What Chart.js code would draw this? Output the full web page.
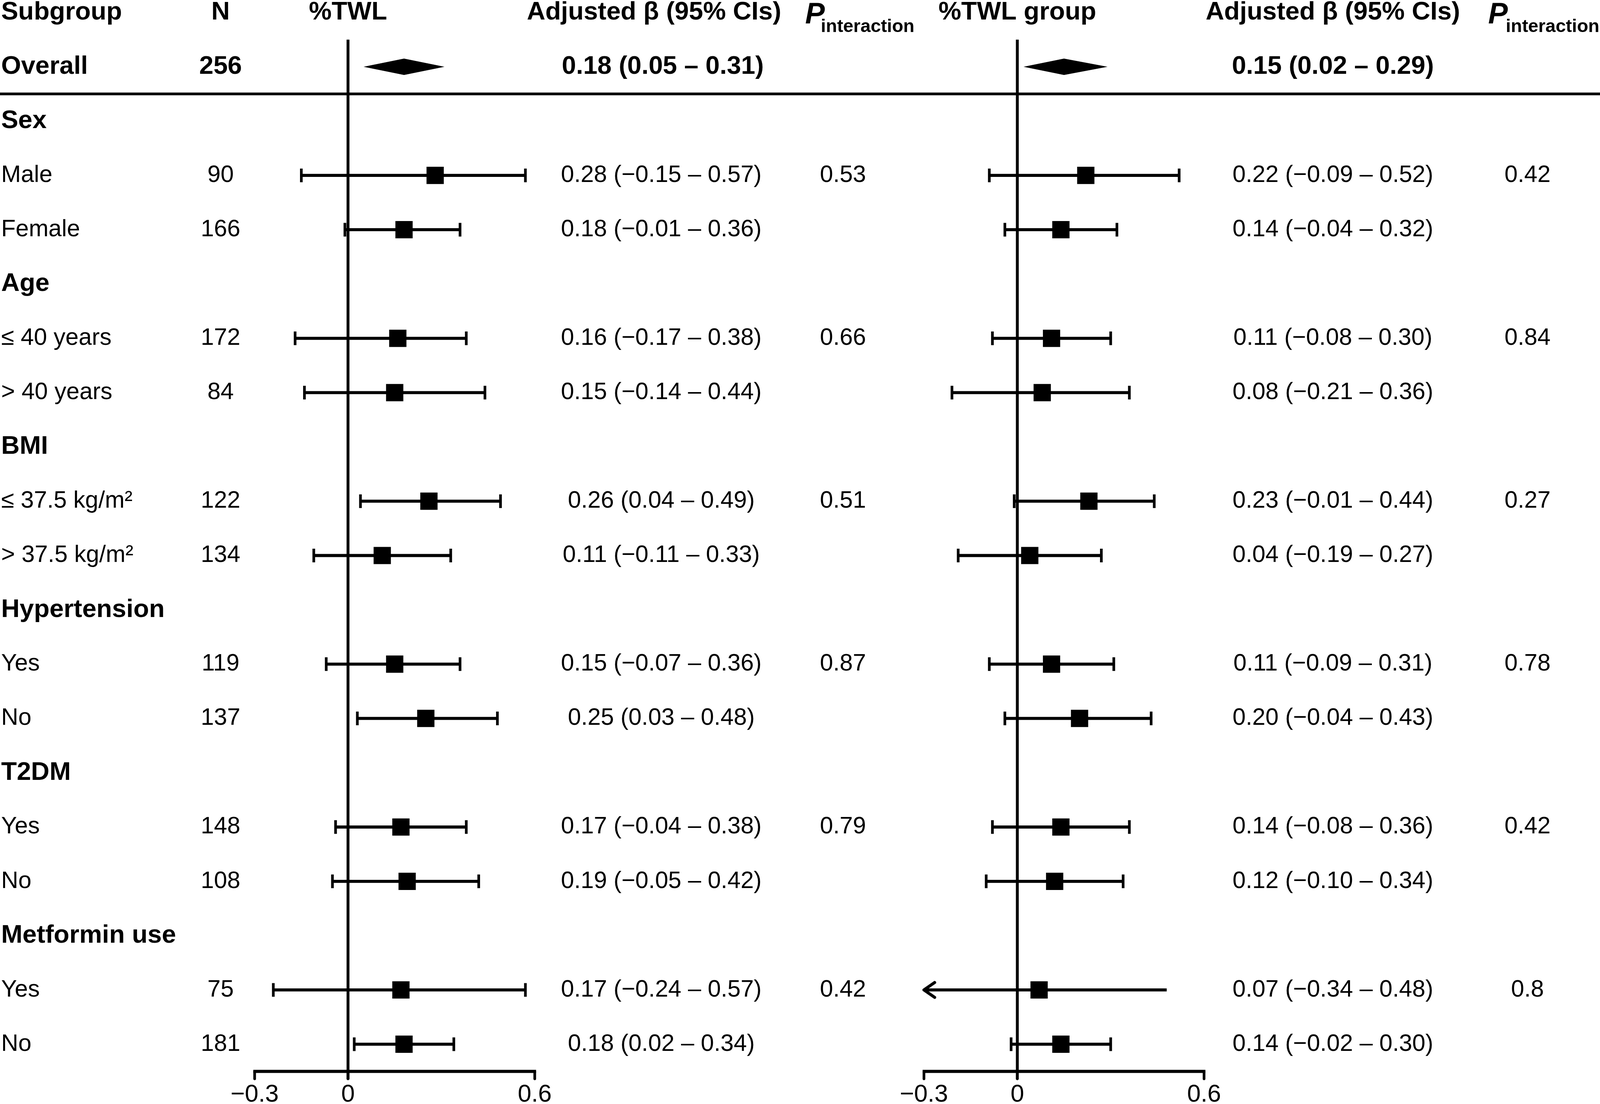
<!DOCTYPE html>
<html>
<head>
<meta charset="utf-8">
<script src="https://cdn.jsdelivr.net/npm/chart.js@4.4.1/dist/chart.umd.min.js"></script>
<style>
  html, body { margin: 0; padding: 0; background: #fff; overflow: hidden; }
  canvas { display: block; }
</style>
</head>
<body>
<canvas id="forest"></canvas>
<script>
// rows below the header line (row 0 is the column header)
const subgroups = ['Overall', 'Sex', 'Male', 'Female', 'Age', '≤ 40 years', '> 40 years',
  'BMI', '≤ 37.5 kg/m²', '> 37.5 kg/m²', 'Hypertension', 'Yes', 'No',
  'T2DM', 'Yes', 'No', 'Metformin use', 'Yes', 'No'];
const headingRows = [true, true, false, false, true, false, false, true, false, false,
  true, false, false, true, false, false, true, false, false];
const counts = [256, null, 90, 166, null, 172, 84, null, 122, 134, null, 119, 137, null, 148, 108, null, 75, 181];

// %TWL (continuous)
const twlEst  = [0.18, null, 0.28, 0.18, null, 0.16, 0.15, null, 0.26, 0.11, null, 0.15, 0.25, null, 0.17, 0.19, null, 0.17, 0.18];
const twlLow  = [0.05, null, -0.15, -0.01, null, -0.17, -0.14, null, 0.04, -0.11, null, -0.07, 0.03, null, -0.04, -0.05, null, -0.24, 0.02];
const twlHigh = [0.31, null, 0.57, 0.36, null, 0.38, 0.44, null, 0.49, 0.33, null, 0.36, 0.48, null, 0.38, 0.42, null, 0.57, 0.34];
const twlP    = [null, null, '0.53', null, null, '0.66', null, null, '0.51', null, null, '0.87', null, null, '0.79', null, null, '0.42', null];

// %TWL group
const grpEst  = [0.15, null, 0.22, 0.14, null, 0.11, 0.08, null, 0.23, 0.04, null, 0.11, 0.20, null, 0.14, 0.12, null, 0.07, 0.14];
const grpLow  = [0.02, null, -0.09, -0.04, null, -0.08, -0.21, null, -0.01, -0.19, null, -0.09, -0.04, null, -0.08, -0.10, null, -0.34, -0.02];
const grpHigh = [0.29, null, 0.52, 0.32, null, 0.30, 0.36, null, 0.44, 0.27, null, 0.31, 0.43, null, 0.36, 0.34, null, 0.48, 0.30];
const grpP    = [null, null, '0.42', null, null, '0.84', null, null, '0.27', null, null, '0.78', null, null, '0.42', null, null, '0.8', null];

const tickValues = [-0.3, 0, 0.6];
const tickLabels = ['−0.3', '0', '0.6'];

// layout is measured on a 4193x2827 sheet and scaled to the window
const REF_W = 4193, REF_H = 2827;
const W = window.innerWidth || REF_W, H = window.innerHeight || REF_H;
const SX = W / REF_W, SY = H / REF_H;
const X = v => v * SX, Y = v => v * SY;
const PX_PER_UNIT = X(815.6);
const ZERO_L = X(912), ZERO_R = X(2666);
const ROW0 = Y(32), ROW_H = Y(139.05);
const FONT = '"Liberation Sans", Arial, Helvetica, sans-serif';
const font = (size, style) => (style ? style + ' ' : '') + X(size).toFixed(1) + 'px ' + FONT;
const REG = font(62), BOLD = font(67, 'bold');

const fmt = v => (v < 0 ? '−' : '') + Math.abs(v).toFixed(2);
const ciText = (e, l, h) => fmt(e) + ' (' + fmt(l) + ' – ' + fmt(h) + ')';

function ciLine(est, low, high) {
  const pts = [];
  const min = tickValues[0], max = tickValues[tickValues.length - 1];
  est.forEach((e, i) => {
    if (e === null || i === 0) return;
    const clipped = low[i] < min || high[i] > max;
    pts.push({x: Math.max(low[i], min), y: i + 1, cap: !clipped});
    pts.push({x: Math.min(high[i], max), y: i + 1, cap: !clipped});
    pts.push({x: null, y: null});
  });
  return pts;
}
function squares(est) {
  return est.map((e, i) => (e === null || i === 0) ? null : {x: e, y: i + 1}).filter(p => p);
}

const lineStyle = {
  type: 'scatter', showLine: true, spanGaps: false,
  borderColor: '#000', borderWidth: X(8),
  pointStyle: 'line', pointRotation: 90,
  pointRadius: c => (c.raw && c.raw.cap ? Y(17.5) : 0),
  pointHoverRadius: 0,
  pointBorderColor: '#000', pointBorderWidth: X(7)
};
const squareStyle = {
  type: 'scatter', pointStyle: 'rect', pointRadius: X(32), pointHoverRadius: X(32),
  backgroundColor: '#000', pointBackgroundColor: '#000', pointBorderWidth: 0, borderWidth: 0
};

const forestDecor = {
  id: 'forestDecor',
  beforeDatasetsDraw(chart) {
    const ctx = chart.ctx, y = chart.scales.y;
    ctx.save();
    ctx.strokeStyle = '#000';
    // separator under the overall row
    ctx.lineWidth = Y(7);
    ctx.beginPath();
    ctx.moveTo(0, y.getPixelForValue(1.5));
    ctx.lineTo(W, y.getPixelForValue(1.5));
    ctx.stroke();
    ['x', 'x2'].forEach(id => {
      const s = chart.scales[id];
      const yAxis = y.getPixelForValue(19.5);
      // zero reference line
      ctx.lineWidth = X(7.5);
      ctx.lineCap = 'butt';
      ctx.beginPath();
      ctx.moveTo(s.getPixelForValue(0), y.getPixelForValue(0.5));
      ctx.lineTo(s.getPixelForValue(0), yAxis + Y(20));
      ctx.stroke();
      // bottom axis
      ctx.lineWidth = Y(8);
      ctx.beginPath();
      ctx.moveTo(s.getPixelForValue(tickValues[0]) - X(3.5), yAxis);
      ctx.lineTo(s.getPixelForValue(tickValues[tickValues.length - 1]) + X(3.5), yAxis);
      ctx.stroke();
      ctx.lineWidth = X(7);
      ctx.lineCap = 'round';
      ctx.font = font(64);
      ctx.fillStyle = '#000';
      ctx.textAlign = 'center';
      ctx.textBaseline = 'middle';
      tickValues.forEach((t, j) => {
        const px = s.getPixelForValue(t);
        ctx.beginPath();
        ctx.moveTo(px, yAxis);
        ctx.lineTo(px, yAxis + Y(19));
        ctx.stroke();
        ctx.fillText(tickLabels[j], px, yAxis + Y(60));
      });
    });
    ctx.restore();
  },
  afterDatasetsDraw(chart) {
    const ctx = chart.ctx, y = chart.scales.y;
    const xl = chart.scales.x, xr = chart.scales.x2;
    ctx.save();
    ctx.fillStyle = '#000';
    ctx.strokeStyle = '#000';

    // overall diamonds
    [[xl, twlEst, twlLow, twlHigh], [xr, grpEst, grpLow, grpHigh]].forEach(([s, e, l, h]) => {
      const cy = y.getPixelForValue(1);
      ctx.beginPath();
      ctx.moveTo(s.getPixelForValue(l[0]), cy);
      ctx.lineTo(s.getPixelForValue(e[0]), cy - Y(21));
      ctx.lineTo(s.getPixelForValue(h[0]), cy);
      ctx.lineTo(s.getPixelForValue(e[0]), cy + Y(21));
      ctx.closePath();
      ctx.fill();
    });

    // arrows where the interval runs past the axis
    [[xl, twlLow, twlHigh], [xr, grpLow, grpHigh]].forEach(([s, l, h]) => {
      const min = tickValues[0], max = tickValues[tickValues.length - 1];
      l.forEach((v, i) => {
        if (v === null || i === 0) return;
        const cy = y.getPixelForValue(i + 1);
        ctx.lineWidth = X(8);
        ctx.lineCap = 'round';
        ctx.lineJoin = 'round';
        if (v < min) {
          const px = s.getPixelForValue(min);
          ctx.beginPath();
          ctx.moveTo(px + X(28), cy - Y(19));
          ctx.lineTo(px, cy);
          ctx.lineTo(px + X(28), cy + Y(19));
          ctx.stroke();
        }
        if (h[i] > max) {
          const px = s.getPixelForValue(max);
          ctx.beginPath();
          ctx.moveTo(px - X(28), cy - Y(19));
          ctx.lineTo(px, cy);
          ctx.lineTo(px - X(28), cy + Y(19));
          ctx.stroke();
        }
      });
    });

    // header
    const hy = y.getPixelForValue(0);
    ctx.textBaseline = 'middle';
    ctx.font = BOLD;
    ctx.textAlign = 'left';
    ctx.fillText('Subgroup', X(3), hy);
    ctx.textAlign = 'center';
    ctx.fillText('N', X(578), hy);
    ctx.fillText('%TWL', xl.getPixelForValue(0), hy);
    ctx.fillText('Adjusted β (95% CIs)', X(1714), hy);
    ctx.fillText('%TWL group', xr.getPixelForValue(0), hy);
    ctx.fillText('Adjusted β (95% CIs)', X(3493), hy);
    [[2110, 2151], [3900, 3946]].forEach(([px, sx]) => {
      ctx.textAlign = 'left';
      ctx.textBaseline = 'alphabetic';
      ctx.font = font(77, 'italic bold');
      ctx.fillText('P', X(px), Y(60));
      ctx.font = font(48, 'bold');
      ctx.fillText('interaction', X(sx), Y(82));
    });

    // table body
    ctx.textBaseline = 'middle';
    subgroups.forEach((label, i) => {
      const cy = y.getPixelForValue(i + 1);
      ctx.font = headingRows[i] ? BOLD : REG;
      ctx.textAlign = 'left';
      ctx.fillText(label, X(3), cy);
      ctx.font = i === 0 ? BOLD : REG;
      ctx.textAlign = 'center';
      if (counts[i] !== null) ctx.fillText(String(counts[i]), X(578), cy);
      if (twlEst[i] !== null) ctx.fillText(ciText(twlEst[i], twlLow[i], twlHigh[i]), X(i === 0 ? 1737 : 1733), cy);
      if (grpEst[i] !== null) ctx.fillText(ciText(grpEst[i], grpLow[i], grpHigh[i]), X(3493), cy);
      ctx.font = REG;
      if (twlP[i]) ctx.fillText(twlP[i], X(2209), cy);
      if (grpP[i]) ctx.fillText(grpP[i], X(4003), cy);
    });
    ctx.restore();
  }
};

const canvas = document.getElementById('forest');
canvas.width = W;
canvas.height = H;

new Chart(canvas, {
  type: 'scatter',
  data: {
    datasets: [
      Object.assign({label: '%TWL CI', data: ciLine(twlEst, twlLow, twlHigh), xAxisID: 'x'}, lineStyle),
      Object.assign({label: '%TWL', data: squares(twlEst), xAxisID: 'x'}, squareStyle),
      Object.assign({label: '%TWL group CI', data: ciLine(grpEst, grpLow, grpHigh), xAxisID: 'x2'}, lineStyle),
      Object.assign({label: '%TWL group', data: squares(grpEst), xAxisID: 'x2'}, squareStyle)
    ]
  },
  options: {
    responsive: false,
    animation: false,
    devicePixelRatio: 1,
    clip: false,
    layout: {padding: 0, autoPadding: false},
    plugins: {legend: {display: false}, tooltip: {enabled: false}},
    events: [],
    scales: {
      x: {type: 'linear', display: false, min: -ZERO_L / PX_PER_UNIT, max: (W - ZERO_L) / PX_PER_UNIT},
      x2: {type: 'linear', axis: 'x', position: 'bottom', display: false,
           min: -ZERO_R / PX_PER_UNIT, max: (W - ZERO_R) / PX_PER_UNIT},
      y: {type: 'linear', display: false, reverse: true,
          min: -ROW0 / ROW_H, max: (H - ROW0) / ROW_H}
    }
  },
  plugins: [forestDecor]
});
</script>
</body>
</html>
